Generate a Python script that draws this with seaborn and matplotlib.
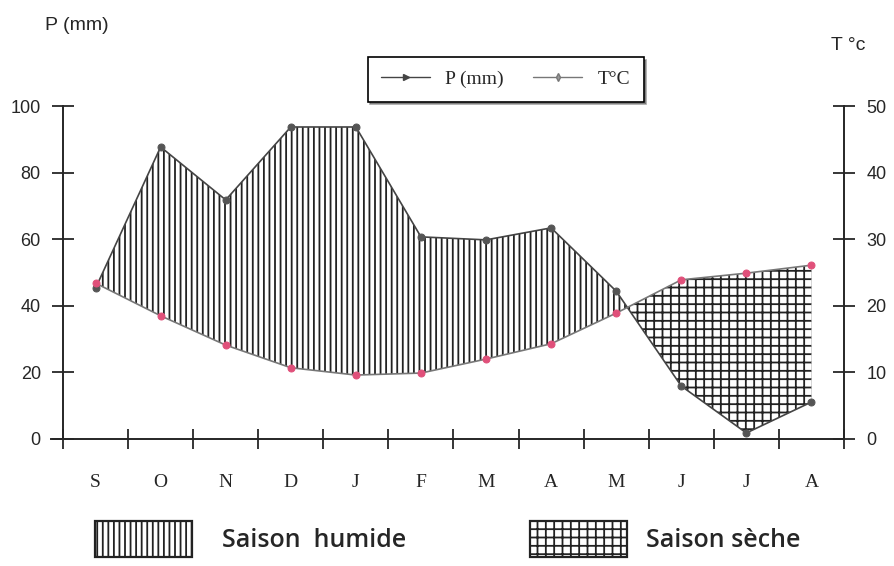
import numpy as np
import pandas as pd
import matplotlib
matplotlib.use("Agg")
import matplotlib.pyplot as plt
import matplotlib.patches as mpatches
from matplotlib.lines import Line2D
import seaborn as sns

# --- Données (diagramme ombrothermique) ---
months = ["S", "O", "N", "D", "J", "F", "M", "A", "M", "J", "J", "A"]
precip = [45.3, 87.7, 71.8, 93.7, 93.7, 60.7, 59.8, 63.4, 44.4, 15.9, 1.8, 11.1]
temp = [23.4, 18.5, 14.1, 10.7, 9.6, 9.9, 12.0, 14.3, 18.9, 23.9, 24.9, 26.1]
season_labels = ["Saison  humide", "Saison sèche"]

df = pd.DataFrame({"pos": np.arange(len(months)), "month": months,
                   "P": precip, "T": temp})
df["T2"] = df["T"] * 2  # T sur l'échelle P = 2T

sns.set_style("ticks")
plt.rcParams["font.family"] = ["Liberation Sans", "DejaVu Sans"]
plt.rcParams["hatch.linewidth"] = 1.3

fig = plt.figure(figsize=(8.95, 5.66), dpi=100)
ax = fig.add_axes([0.0704, 0.2244, 0.8726, 0.5883])
ax2 = ax.twinx()

# --- Saisons (hachures) ---
ax.fill_between(df["pos"], df["P"], df["T2"], where=df["P"] >= df["T2"],
                interpolate=True, facecolor="white", edgecolor="#222222",
                hatch="|||", linewidth=0)
ax.fill_between(df["pos"], df["P"], df["T2"], where=df["P"] <= df["T2"],
                interpolate=True, facecolor="white", edgecolor="#222222",
                hatch="++", linewidth=0)

# --- Courbes ---
sns.lineplot(data=df, x="pos", y="P", ax=ax, color="#444444", lw=1.2,
             marker="o", markersize=5, markerfacecolor="#555555",
             markeredgecolor="#555555")
sns.lineplot(data=df, x="pos", y="T", ax=ax2, color="#777777", lw=1.2,
             marker="o", markersize=5, markerfacecolor="#e0507a",
             markeredgecolor="#e0507a")

ax.set_xlim(-0.5, len(months) - 0.5)
ax.set_ylim(0, 100)
ax2.set_ylim(0, 50)
ax.set_xlabel("")
ax.set_ylabel("")
ax2.set_ylabel("")

ax.set_yticks(range(0, 101, 20))
ax2.set_yticks(range(0, 51, 10))
ax.set_xticks(np.arange(-0.5, len(months), 1))
ax.set_xticklabels([])
ax.set_xticks(np.arange(len(months)), minor=True)
ax.set_xticklabels(months, minor=True, family="Liberation Serif", fontsize=14)
ax.tick_params(axis="x", which="minor", length=0, pad=25)
ax.tick_params(axis="x", which="major", direction="inout", length=14, width=1.3)
ax.tick_params(axis="y", direction="inout", length=16, width=1.3,
               labelsize=13, pad=8)
ax2.tick_params(axis="y", direction="inout", length=16, width=1.3,
                labelsize=13, pad=8)

for a in (ax, ax2):
    a.spines["top"].set_visible(False)
    for s in ("left", "right", "bottom"):
        a.spines[s].set_linewidth(1.4)
ax.spines["right"].set_visible(False)
ax2.spines["left"].set_visible(False)
ax2.spines["bottom"].set_visible(False)
ax.spines["bottom"].set_bounds(-0.68, len(months) - 0.5)

fig.text(0.05, 0.955, "P (mm)", fontsize=14, ha="left", va="center")
fig.text(0.928, 0.92, "T °c", fontsize=14, ha="left", va="center")

# --- Légende des courbes ---
handles = [
    Line2D([], [], color="#444444", lw=1, marker=">", markersize=4,
           markerfacecolor="#444444"),
    Line2D([], [], color="#777777", lw=1, marker="d", markersize=4,
           markerfacecolor="#999999"),
]
leg = ax.legend(handles, ["P (mm)", "T°C"], loc="center",
                bbox_to_anchor=(0.565, 0.86), bbox_transform=fig.transFigure,
                ncol=2, frameon=True, fancybox=False, shadow=True,
                edgecolor="black", prop={"family": "Liberation Serif",
                                         "size": 14},
                handlelength=2.5, borderpad=0.7, columnspacing=1.5)
leg.get_frame().set_linewidth(1.2)

# --- Légende des saisons ---
season_font = {"family": ["Open Sans", "DejaVu Sans"], "size": 18,
               "weight": "semibold"}
for hatch, label, x0, tpad in [("|||", season_labels[0], 0.106, 1.2),
                               ("++", season_labels[1], 0.592, 0.75)]:
    patch = mpatches.Patch(facecolor="white", edgecolor="#222222",
                           hatch=hatch, linewidth=1.6)
    fig.legend([patch], [label], loc="center left",
               bbox_to_anchor=(x0, 0.048), frameon=False, prop=season_font,
               handlelength=3.9, handleheight=1.85, handletextpad=tpad,
               borderpad=0, borderaxespad=0)

fig.savefig("out.png", dpi=100)
